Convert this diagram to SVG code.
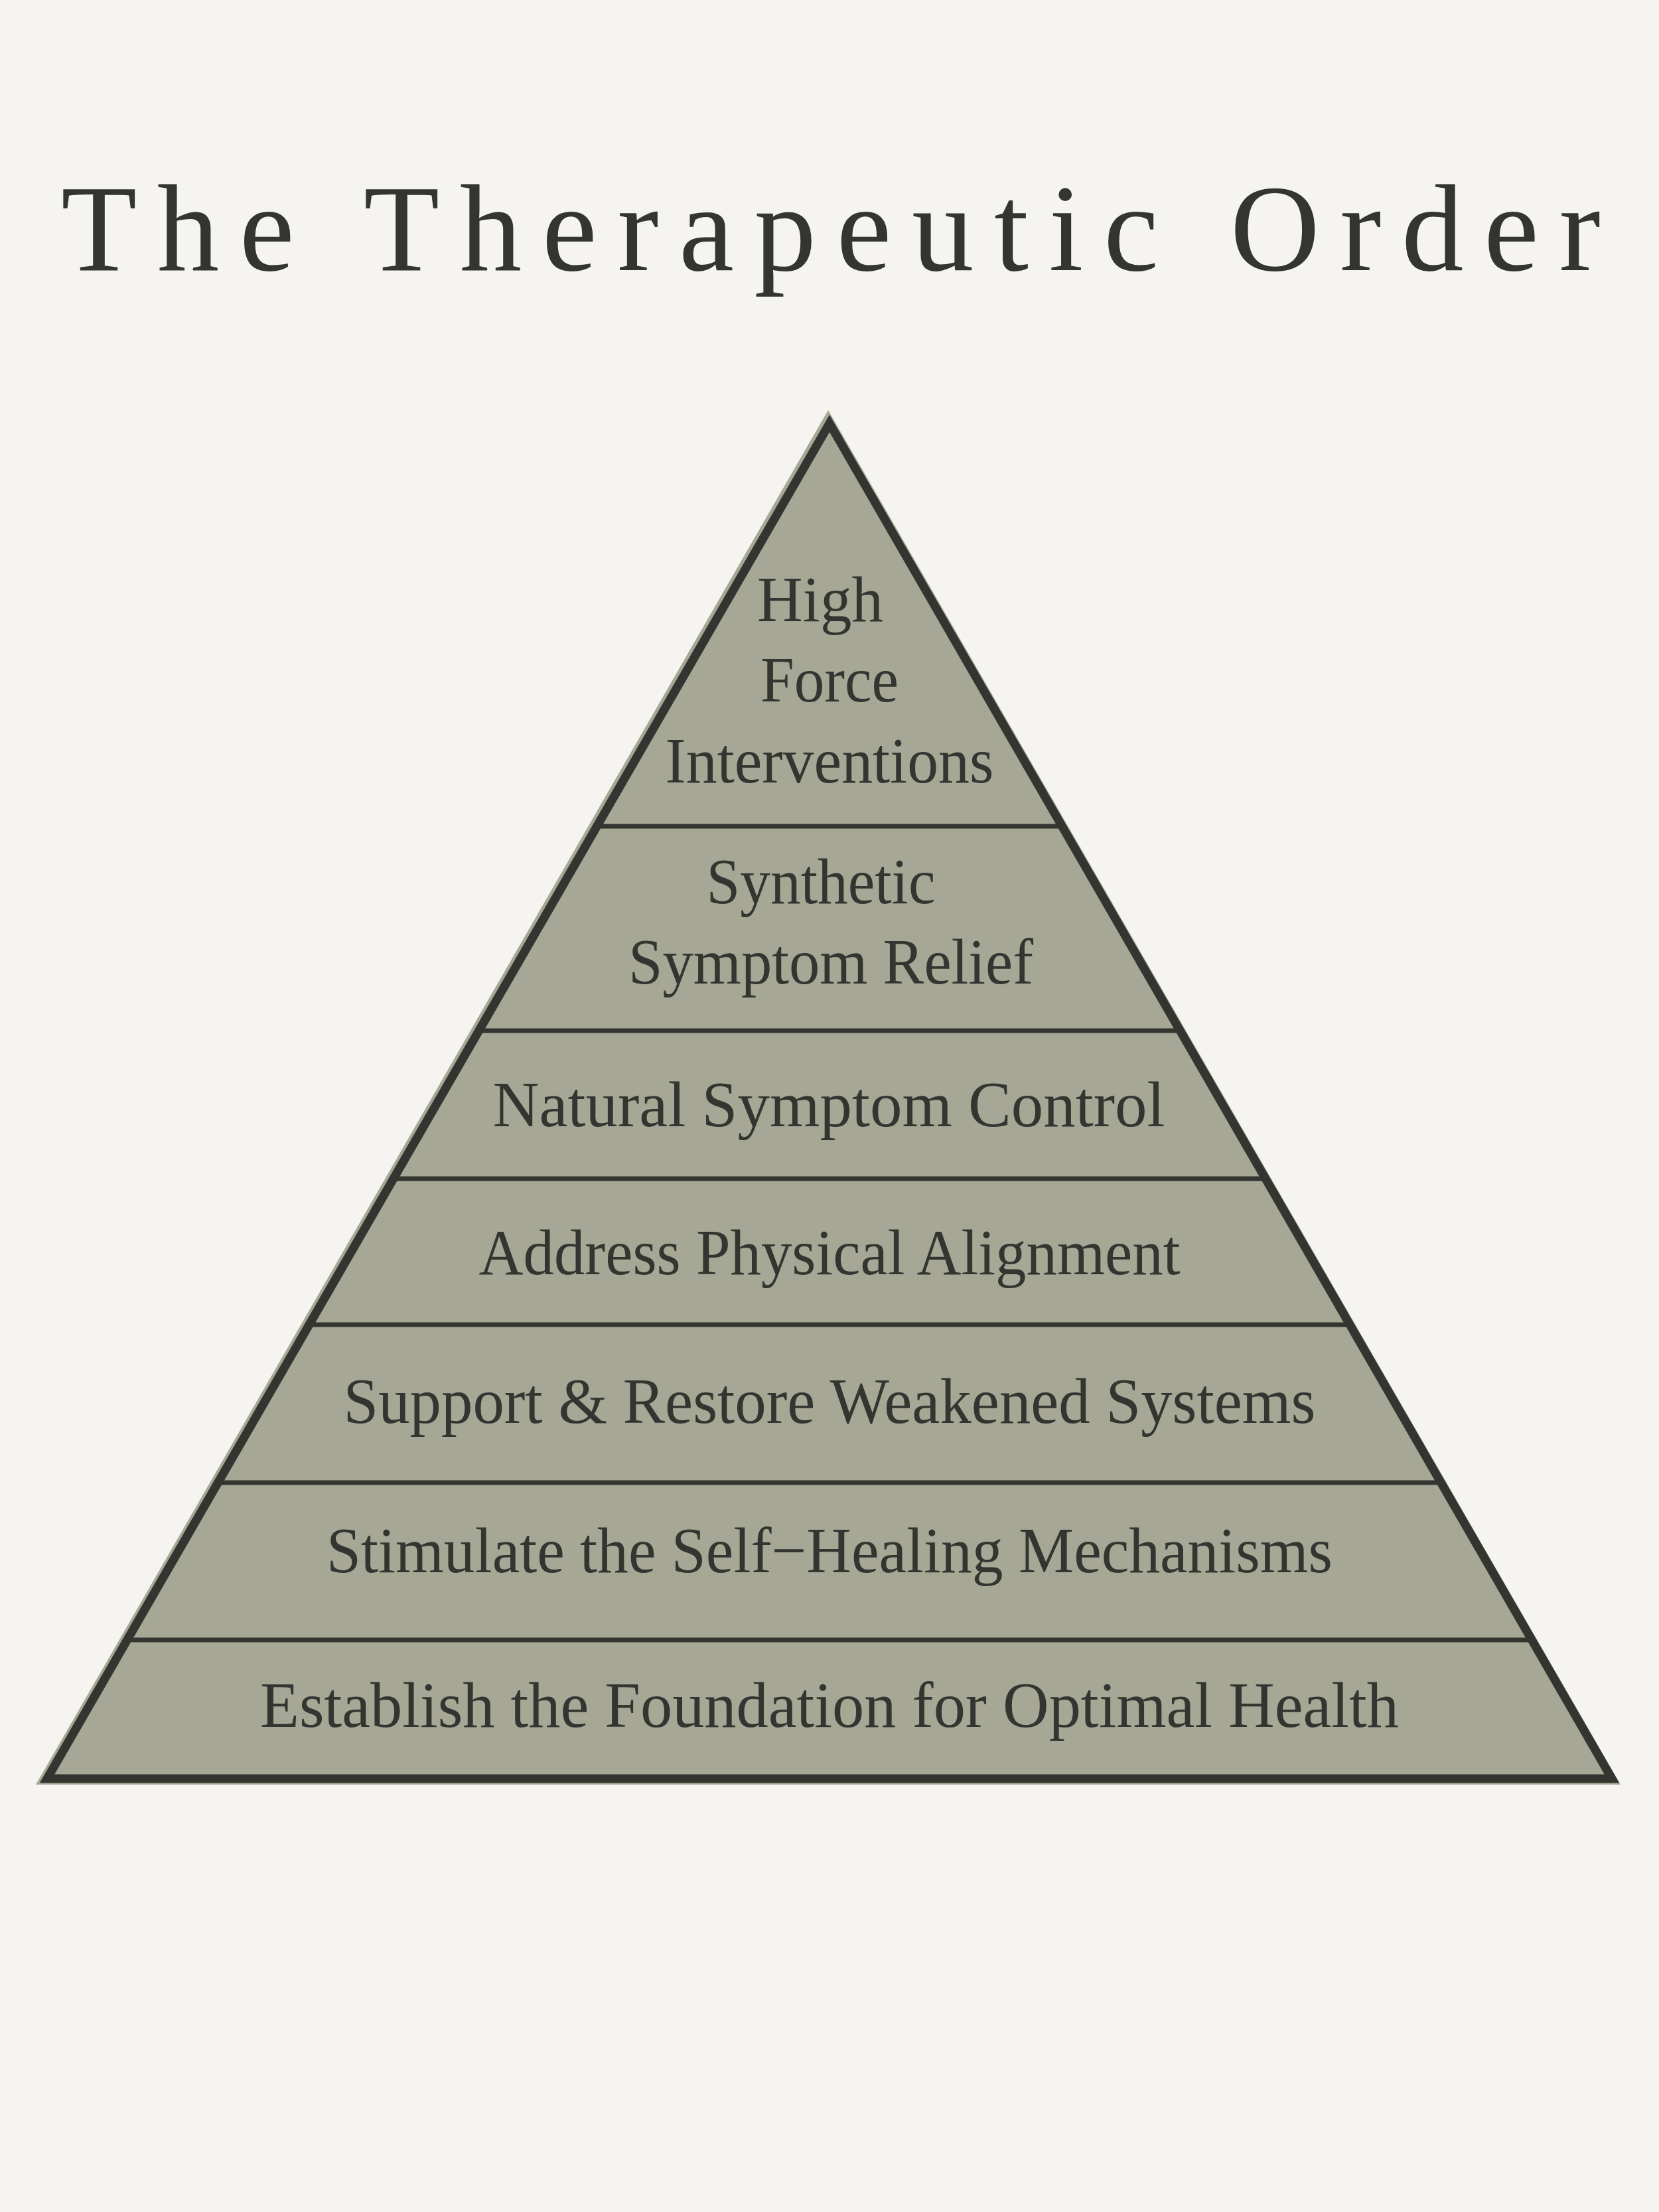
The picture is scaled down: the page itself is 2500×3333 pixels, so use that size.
<svg xmlns="http://www.w3.org/2000/svg" width="2500" height="3333" viewBox="0 0 2500 3333">
<style>
.title{font-family:"Liberation Serif","Times New Roman",serif;font-size:187px;fill:#333531;letter-spacing:30.5px}
.lbl{font-family:"Liberation Serif","Times New Roman",serif;font-size:97px;fill:#333531;text-anchor:middle}
.div{stroke:#333531;stroke-width:7;fill:none}
</style>
<rect x="0" y="0" width="2500" height="3333" fill="#f5f4f0"/>
<text class="title" x="92" y="407">The Therapeutic Order</text>
<g id="pyramid">
<polygon points="1248,618 54,2689 2442,2689" fill="#a6a795"/>
<polygon points="1250,638 71,2680 2429,2680" fill="none" stroke="#333531" stroke-width="13" stroke-linejoin="miter" stroke-miterlimit="10"/>
</g>
<g id="connectors">
<line class="div" x1="899" y1="1245" x2="1601" y2="1245"/>
<line class="div" x1="722" y1="1553" x2="1778" y2="1553"/>
<line class="div" x1="593" y1="1776" x2="1907" y2="1776"/>
<line class="div" x1="466" y1="1996" x2="2034" y2="1996"/>
<line class="div" x1="329" y1="2234" x2="2171" y2="2234"/>
<line class="div" x1="192" y1="2471" x2="2308" y2="2471"/>
</g>
<g id="level7"><text class="lbl" x="1236" y="936" textLength="190" lengthAdjust="spacingAndGlyphs">High</text><text class="lbl" x="1250" y="1057" textLength="208" lengthAdjust="spacingAndGlyphs">Force</text><text class="lbl" x="1250" y="1179" textLength="495" lengthAdjust="spacingAndGlyphs">Interventions</text></g>
<g id="level6"><text class="lbl" x="1237" y="1361" textLength="345" lengthAdjust="spacingAndGlyphs">Synthetic</text><text class="lbl" x="1252" y="1482" textLength="610" lengthAdjust="spacingAndGlyphs">Symptom Relief</text></g>
<g id="level5"><text class="lbl" x="1249" y="1697" textLength="1013" lengthAdjust="spacingAndGlyphs">Natural Symptom Control</text></g>
<g id="level4"><text class="lbl" x="1250" y="1920" textLength="1057" lengthAdjust="spacingAndGlyphs">Address Physical Alignment</text></g>
<g id="level3"><text class="lbl" x="1250" y="2144" textLength="1465" lengthAdjust="spacingAndGlyphs">Support &amp; Restore Weakened Systems</text></g>
<g id="level2"><text class="lbl" x="1250" y="2369" textLength="1516" lengthAdjust="spacingAndGlyphs">Stimulate the Self−Healing Mechanisms</text></g>
<g id="level1"><text class="lbl" x="1250" y="2602" textLength="1716" lengthAdjust="spacingAndGlyphs">Establish the Foundation for Optimal Health</text></g>
</svg>
